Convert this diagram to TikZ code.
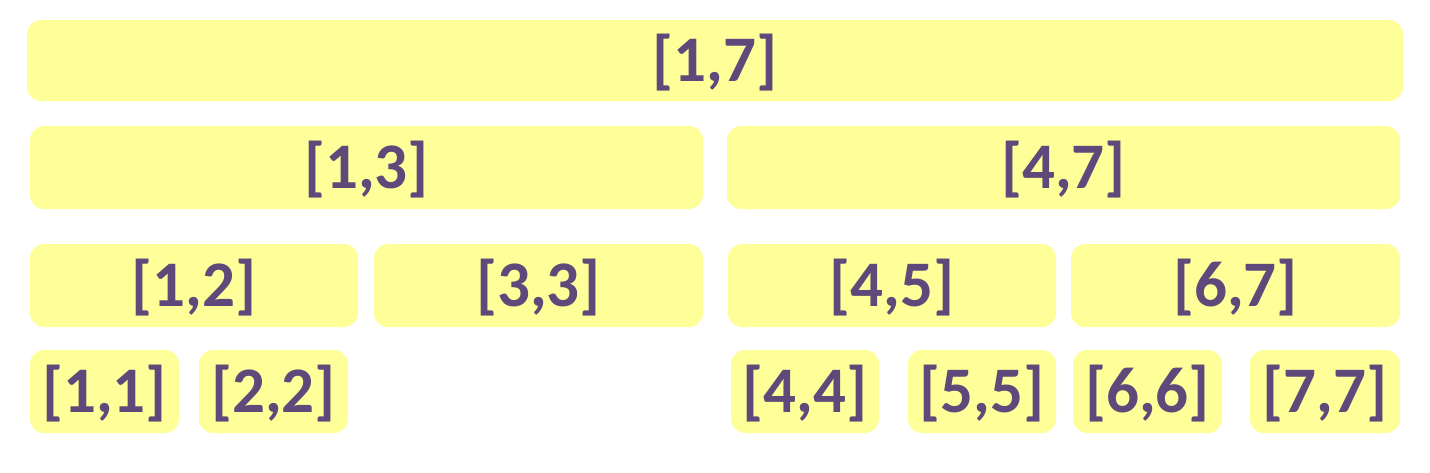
\documentclass[tikz,border=0pt]{standalone}
\usepackage{fontspec}
\setmainfont{Carlito}
\definecolor{boxfill}{HTML}{FFFF99}
\definecolor{txt}{HTML}{5F497A}
\begin{document}
\begin{tikzpicture}[x=0.5pt,y=-0.5pt,
  box/.style={fill=boxfill, draw=none, rounded corners=7pt, inner sep=0pt,
    minimum height=41.5pt, text height=20.5pt, text depth=0pt,
    font=\fontsize{32.5}{32.5}\selectfont\bfseries, text=txt}]
\useasboundingbox (0,0) rectangle (1430,472);
\node[box, minimum width=688pt, minimum height=40.5pt] (n17) at (715,60.5) {[1,7]};
\node[box, minimum width=336.5pt] (n13) at (366.5,167.5) {[1,3]};
\node[box, minimum width=336.5pt] (n47) at (1063.5,167.5) {[4,7]};
\node[box, minimum width=164pt] (n12) at (194,285.5) {[1,2]};
\node[box, minimum width=164.5pt] (n33) at (538.5,285.5) {[3,3]};
\node[box, minimum width=164pt] (n45) at (892,285.5) {[4,5]};
\node[box, minimum width=164.5pt] (n67) at (1235.5,285.5) {[6,7]};
\node[box, minimum width=74.5pt] (n11) at (104.5,391.5) {[1,1]};
\node[box, minimum width=74.5pt] (n22) at (273.5,391.5) {[2,2]};
\node[box, minimum width=74pt] (n44) at (805,391.5) {[4,4]};
\node[box, minimum width=74pt] (n55) at (982,391.5) {[5,5]};
\node[box, minimum width=74.5pt] (n66) at (1147.5,391.5) {[6,6]};
\node[box, minimum width=75pt] (n77) at (1325,391.5) {[7,7]};
\end{tikzpicture}
\end{document}
